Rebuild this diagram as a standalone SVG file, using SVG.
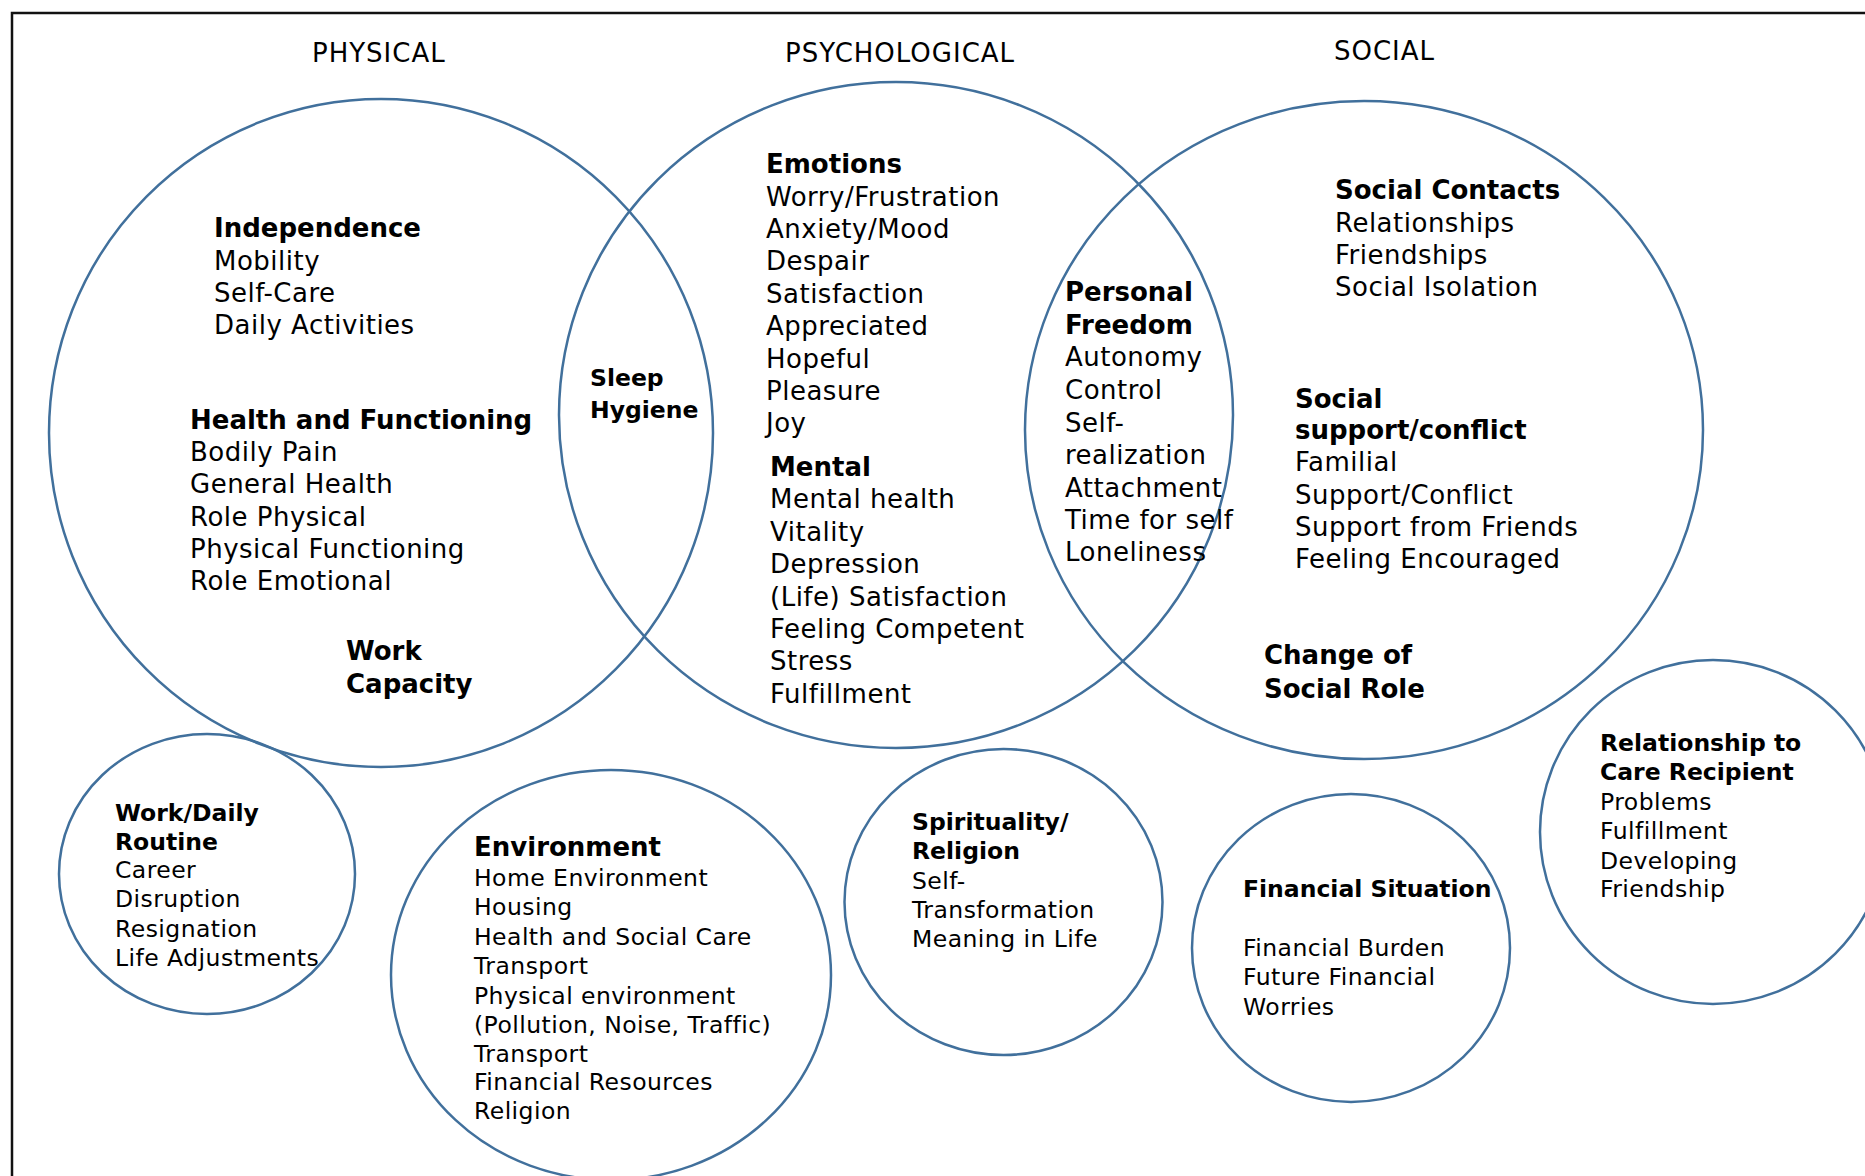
<svg xmlns="http://www.w3.org/2000/svg" width="1865" height="1176" viewBox="0 0 1865 1176">
<style>
text{font-family:"DejaVu Sans","Verdana",sans-serif;fill:#000}
.t{font-size:26px;letter-spacing:1px}
.m{font-size:26px;letter-spacing:0.5px}
.s{font-size:23.5px;letter-spacing:0.45px}
.b{font-weight:bold;letter-spacing:0}
.c{fill:none;stroke:#41709c;stroke-width:2.5}
</style>
<rect width="1865" height="1176" fill="#fff"/>
<path d="M12,1176 V13 H1865" fill="none" stroke="#111" stroke-width="2.5"/>
<g id="titles" class="t">
<text x="312" y="62">PHYSICAL</text>
<text x="785" y="62">PSYCHOLOGICAL</text>
<text x="1334" y="60">SOCIAL</text>
</g>
<g id="physical">
<ellipse class="c" cx="381" cy="433" rx="332" ry="334"/>
<g class="m" transform="translate(0,1)">
<text x="214" y="236" class="b">Independence</text>
<text x="214" y="269">Mobility</text>
<text x="214" y="301">Self-Care</text>
<text x="214" y="333">Daily Activities</text>
<text x="190" y="428" class="b">Health and Functioning</text>
<text x="190" y="460">Bodily Pain</text>
<text x="190" y="492">General Health</text>
<text x="190" y="524.5">Role Physical</text>
<text x="190" y="557">Physical Functioning</text>
<text x="190" y="589">Role Emotional</text>
<text x="346" y="659" class="b">Work</text>
<text x="346" y="692" class="b">Capacity</text>
</g>
</g>
<g id="psychological">
<ellipse class="c" cx="896" cy="415" rx="337" ry="333"/>
<g class="m" transform="translate(0,2)">
<text x="766" y="171" class="b">Emotions</text>
<text x="766" y="203.5">Worry/Frustration</text>
<text x="766" y="236">Anxiety/Mood</text>
<text x="766" y="268">Despair</text>
<text x="766" y="301">Satisfaction</text>
<text x="766" y="333">Appreciated</text>
<text x="766" y="366">Hopeful</text>
<text x="766" y="398">Pleasure</text>
<text x="766" y="430">Joy</text>
<text x="770" y="474" class="b">Mental</text>
<text x="770" y="506">Mental health</text>
<text x="770" y="539">Vitality</text>
<text x="770" y="571">Depression</text>
<text x="770" y="604">(Life) Satisfaction</text>
<text x="770" y="636">Feeling Competent</text>
<text x="770" y="668">Stress</text>
<text x="770" y="701">Fulfillment</text>
</g>
</g>
<g id="social">
<ellipse class="c" cx="1364" cy="430" rx="339" ry="329"/>
<g class="m" transform="translate(0,2)">
<text x="1335" y="197" class="b">Social Contacts</text>
<text x="1335" y="230">Relationships</text>
<text x="1335" y="262">Friendships</text>
<text x="1335" y="294">Social Isolation</text>
<text x="1295" y="406" class="b">Social</text>
<text x="1295" y="437" class="b">support/conflict</text>
<text x="1295" y="469">Familial</text>
<text x="1295" y="502">Support/Conflict</text>
<text x="1295" y="534">Support from Friends</text>
<text x="1295" y="566">Feeling Encouraged</text>
<text x="1264" y="662" class="b">Change of</text>
<text x="1264" y="696" class="b">Social Role</text>
</g>
</g>
<g id="sleep-hygiene" class="s">
<text x="590" y="386" class="b">Sleep</text>
<text x="590" y="418" class="b">Hygiene</text>
</g>
<g id="personal-freedom" class="m" transform="translate(0,2)">
<text x="1065" y="299" class="b">Personal</text>
<text x="1065" y="332" class="b">Freedom</text>
<text x="1065" y="364">Autonomy</text>
<text x="1065" y="397">Control</text>
<text x="1065" y="430">Self-</text>
<text x="1065" y="462">realization</text>
<text x="1065" y="495">Attachment</text>
<text x="1065" y="527">Time for self</text>
<text x="1065" y="559">Loneliness</text>
</g>
<g id="work-daily-routine">
<ellipse class="c" cx="207" cy="874" rx="148" ry="140"/>
<g class="s" transform="translate(0,1)">
<text x="115" y="820" class="b">Work/Daily</text>
<text x="115" y="848.5" class="b">Routine</text>
<text x="115" y="877">Career</text>
<text x="115" y="906">Disruption</text>
<text x="115" y="935.5">Resignation</text>
<text x="115" y="965">Life Adjustments</text>
</g>
</g>
<g id="environment">
<ellipse class="c" cx="611" cy="975" rx="220" ry="205"/>
<g class="s" transform="translate(0,1)">
<text x="474" y="855" class="b" style="font-size:26px">Environment</text>
<text x="474" y="885">Home Environment</text>
<text x="474" y="914">Housing</text>
<text x="474" y="944">Health and Social Care</text>
<text x="474" y="973">Transport</text>
<text x="474" y="1003">Physical environment</text>
<text x="474" y="1032">(Pollution, Noise, Traffic)</text>
<text x="474" y="1061">Transport</text>
<text x="474" y="1089">Financial Resources</text>
<text x="474" y="1118">Religion</text>
</g>
</g>
<g id="spirituality">
<ellipse class="c" cx="1003.5" cy="902" rx="159" ry="153"/>
<g class="s" transform="translate(0,1.5)">
<text x="912" y="828" class="b">Spirituality/</text>
<text x="912" y="857" class="b">Religion</text>
<text x="912" y="887">Self-</text>
<text x="912" y="916">Transformation</text>
<text x="912" y="945">Meaning in Life</text>
</g>
</g>
<g id="financial-situation">
<ellipse class="c" cx="1351" cy="948" rx="159" ry="154"/>
<g class="s">
<text x="1243" y="897" class="b">Financial Situation</text>
<text x="1243" y="956">Financial Burden</text>
<text x="1243" y="985">Future Financial</text>
<text x="1243" y="1015">Worries</text>
</g>
</g>
<g id="relationship-care-recipient">
<ellipse class="c" cx="1713" cy="832" rx="173" ry="172"/>
<g class="s" transform="translate(0,1)">
<text x="1600" y="750" class="b">Relationship to</text>
<text x="1600" y="779" class="b">Care Recipient</text>
<text x="1600" y="809">Problems</text>
<text x="1600" y="838">Fulfillment</text>
<text x="1600" y="867.5">Developing</text>
<text x="1600" y="896">Friendship</text>
</g>
</g>
</svg>
